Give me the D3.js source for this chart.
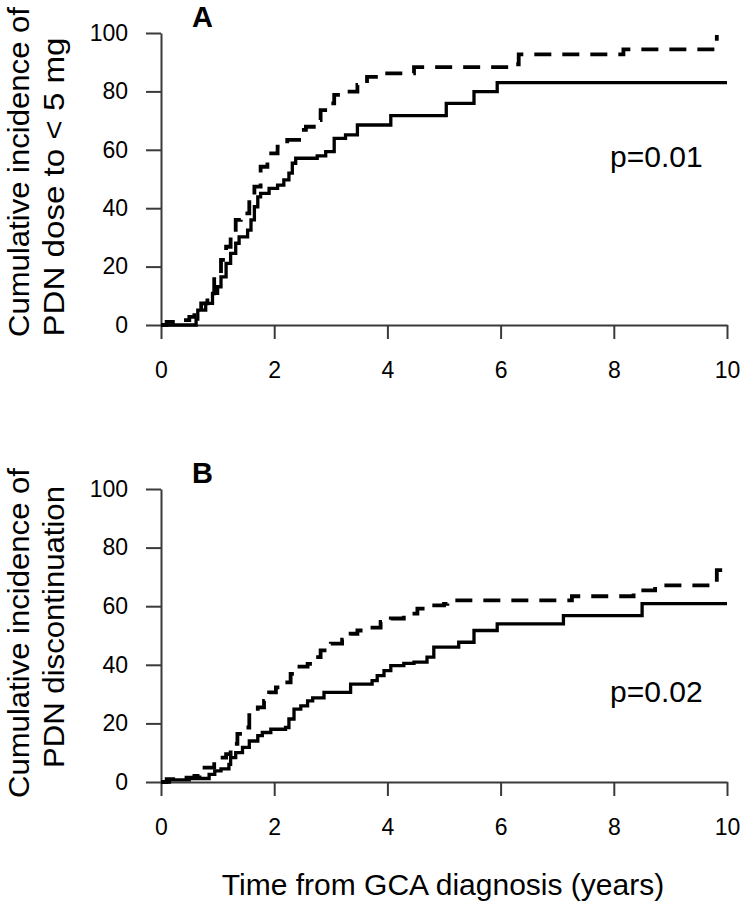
<!DOCTYPE html>
<html>
<head>
<meta charset="utf-8">
<script src="https://cdn.jsdelivr.net/npm/d3@7/dist/d3.min.js"></script>
<style>
  html, body { margin: 0; padding: 0; background: #fff; }
  svg { display: block; }
  text { font-family: "Liberation Sans", Arial, sans-serif; fill: #000; }
</style>
</head>
<body>
<svg id="chart" width="744" height="907"></svg>
<script>
// ---- Data ----
const xTicks = [0, 2, 4, 6, 8, 10];
const yTicks = [0, 20, 40, 60, 80, 100];

// Panel A: cumulative incidence of PDN dose to < 5 mg
const aSolidT = [0, 0.62, 0.65, 0.79, 0.91, 1.0, 1.06, 1.15, 1.23, 1.32, 1.38, 1.53, 1.59, 1.65, 1.71, 1.76, 1.91, 2.06, 2.17, 2.26, 2.32, 2.38, 2.76, 2.91, 3.06, 3.26, 3.47, 4.06, 5.04, 5.53, 5.94, 10];
const aSolidV = [0, 2.0, 5.1, 7.4, 10.8, 13.1, 16.5, 21.1, 24.5, 28.0, 30.2, 32.5, 36.0, 40.5, 43.9, 45.1, 46.8, 47.9, 49.7, 52.0, 55.4, 57.1, 57.9, 59.4, 63.9, 65.1, 68.5, 71.7, 75.9, 79.9, 83.0, 83.0];
const aDashT = [0, 0.1, 0.3, 0.5, 0.59, 0.71, 0.82, 0.94, 1.06, 1.15, 1.23, 1.32, 1.41, 1.56, 1.65, 1.76, 1.88, 2.06, 2.23, 2.44, 2.56, 2.70, 2.82, 2.94, 3.06, 3.23, 3.47, 3.64, 3.88, 4.47, 6.15, 6.32, 8.17, 9.82];
const aDashV = [0, 1.1, 1.7, 2.8, 3.4, 7.4, 10.8, 17.7, 22.3, 26.8, 31.4, 36.0, 38.2, 42.8, 47.4, 54.2, 58.8, 61.1, 63.4, 66.8, 67.9, 70.2, 73.6, 75.9, 78.8, 79.9, 82.2, 85.0, 86.2, 88.3, 89.3, 92.7, 94.4, 99.3];

// Panel B: cumulative incidence of PDN discontinuation
const bSolidT = [0, 0.15, 0.5, 0.85, 0.95, 1.06, 1.2, 1.23, 1.32, 1.44, 1.56, 1.71, 1.79, 1.94, 2.20, 2.26, 2.35, 2.47, 2.59, 2.68, 2.88, 3.35, 3.73, 3.82, 3.94, 4.06, 4.29, 4.47, 4.70, 4.82, 5.26, 5.53, 5.94, 7.11, 8.50, 10];
const bSolidV = [0, 0.7, 1.2, 2.6, 3.8, 4.5, 6.0, 8.3, 10.0, 11.8, 14.0, 15.8, 16.9, 18.0, 18.6, 21.5, 24.9, 26.0, 27.7, 28.7, 30.6, 33.4, 34.6, 36.3, 38.0, 39.7, 40.5, 40.9, 42.6, 46.0, 47.7, 51.7, 54.0, 56.8, 60.9, 60.9];
const bDashT = [0, 0.1, 0.35, 0.59, 0.68, 0.94, 1.15, 1.23, 1.35, 1.44, 1.56, 1.71, 1.82, 1.91, 2.03, 2.17, 2.29, 2.41, 2.59, 2.73, 2.82, 3.0, 3.20, 3.35, 3.47, 3.64, 3.88, 4.06, 4.29, 4.53, 4.76, 5.0, 5.06, 7.26, 8.35, 8.73, 9.82, 9.97];
const bDashV = [0, 1.0, 1.5, 2.1, 4.9, 8.3, 9.5, 13.0, 16.4, 18.6, 23.7, 25.5, 27.7, 30.6, 32.3, 34.0, 36.9, 39.4, 40.3, 42.6, 44.9, 47.2, 48.6, 50.6, 51.7, 52.7, 54.6, 55.8, 57.5, 59.2, 60.3, 60.8, 62.0, 63.4, 65.4, 67.1, 72.3, 72.3];

const panelLabels = ["A", "B"];
const yTitles = [["Cumulative incidence of", "PDN dose to < 5 mg"], ["Cumulative incidence of", "PDN discontinuation"]];
const pValues = ["p=0.01", "p=0.02"];
const xTitle = "Time from GCA diagnosis (years)";

// ---- Drawing ----
const svg = d3.select("#chart");
const x = d3.scaleLinear().domain([0, 10]).range([161, 727]);

const panels = [
  { top: 33, bottom: 325, solid: [aSolidT, aSolidV], dash: [aDashT, aDashV], label: panelLabels[0], titles: yTitles[0], p: pValues[0], pY: 167,
    titleCy: [172, 187], titleLen: [330, 299] },
  { top: 489, bottom: 782, solid: [bSolidT, bSolidV], dash: [bDashT, bDashV], label: panelLabels[1], titles: yTitles[1], p: pValues[1], pY: 702,
    titleCy: [633, 627], titleLen: [330, 282] }
];

const axisColor = "#3a3a3a";

panels.forEach(pn => {
  const y = d3.scaleLinear().domain([0, 100]).range([pn.bottom, pn.top]);
  const g = svg.append("g");

  const ya = g.append("g").attr("transform", `translate(${x(0)},0)`)
    .call(d3.axisLeft(y).tickValues(yTicks).tickSize(15).tickSizeOuter(0).tickPadding(18));
  const xa = g.append("g").attr("transform", `translate(0,${y(0)})`)
    .call(d3.axisBottom(x).tickValues(xTicks).tickSize(14).tickSizeOuter(0).tickPadding(23));
  [ya, xa].forEach(a => {
    a.selectAll("path.domain").attr("stroke", axisColor).attr("stroke-width", 2);
    a.selectAll(".tick line").attr("stroke", axisColor).attr("stroke-width", 2);
    a.selectAll(".tick text").attr("font-family", '"Liberation Sans", Arial, sans-serif').attr("font-size", 23).attr("fill", "#000");
  });

  const line = d3.line()
    .x(d => x(d[0]))
    .y(d => y(d[1]))
    .curve(d3.curveStepAfter);

  const solidData = pn.solid[0].map((t, i) => [t, pn.solid[1][i]]);
  const dashData = pn.dash[0].map((t, i) => [t, pn.dash[1][i]]);

  g.append("path").datum(dashData)
    .attr("d", line).attr("fill", "none").attr("stroke", "#000")
    .attr("stroke-width", 3.8).attr("stroke-dasharray", "17,11");
  g.append("path").datum(solidData)
    .attr("d", line).attr("fill", "none").attr("stroke", "#000")
    .attr("stroke-width", 3.3);

  g.append("text").attr("x", 192).attr("y", pn.top - 6)
    .attr("font-size", 29).attr("font-weight", "bold").text(pn.label);

  g.append("text").attr("x", 610).attr("y", pn.pY)
    .attr("font-family", "Lato, 'Open Sans', sans-serif")
    .attr("font-size", 30).text(pn.p);

  [29, 64].forEach((bx, i) => {
    g.append("text")
      .attr("transform", `translate(${bx},${pn.titleCy[i]}) rotate(-90)`)
      .attr("text-anchor", "middle")
      .attr("font-size", 30)
      .attr("textLength", pn.titleLen[i])
      .attr("lengthAdjust", "spacingAndGlyphs")
      .text(pn.titles[i]);
  });
});

svg.append("text").attr("x", 443).attr("y", 895)
  .attr("text-anchor", "middle").attr("font-size", 30).text(xTitle);
</script>
</body>
</html>
